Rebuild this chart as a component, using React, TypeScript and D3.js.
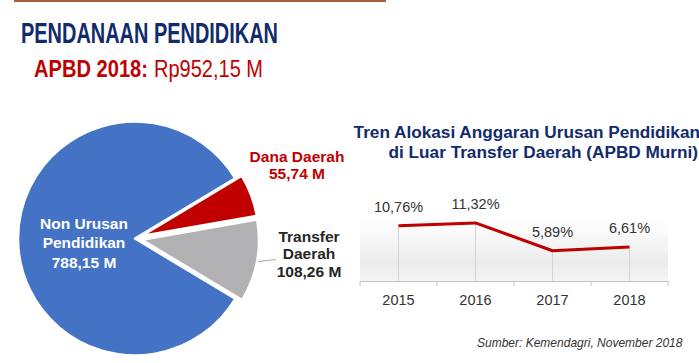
import React from 'react';
import * as d3 from 'd3';

// pie data (APBD 2018, in M rupiah)
const pieCategories = ['Dana Daerah', 'Transfer Daerah', 'Non Urusan Pendidikan'];
const pieValues = [55.74, 108.26, 788.15];
const pieColors = ['#c00000', '#b1b1b3', '#4472c4'];

// trend data
const years = ['2015', '2016', '2017', '2018'];
const shares = [10.76, 11.32, 5.89, 6.61];

const W = 699;
const H = 363;
const FONT = "'Liberation Sans', Arial, Helvetica, sans-serif";
const NAVY = '#112b6b';
const RED = '#c00000';

const fmtPct = (v: number) => v.toFixed(2).replace('.', ',') + '%';

const App = () => {
  // ---- pie ----
  const cx = 135;
  const cy = 238.5;
  const r = 117;
  const start = (59 * Math.PI) / 180;
  const pie = d3
    .pie<number>()
    .sort(null)
    .startAngle(start)
    .endAngle(start + 2 * Math.PI);
  const arcs = pie(pieValues);
  const arc = d3.arc<d3.PieArcDatum<number>>().innerRadius(0).outerRadius(r);
  const explode = [7, 7, 0];

  // ---- line chart ----
  const x = d3.scaleBand().domain(years).range([360, 668]);
  const y = d3.scaleLinear().domain([0, 12]).range([281, 219.4]);
  const line = d3
    .line<number>()
    .x((_, i) => (x(years[i]) as number) + x.bandwidth() / 2)
    .y((d) => y(d));
  const ticks = years.map((yr) => x(yr) as number).concat([x.range()[1]]);

  return (
    <svg
      width={W}
      height={H}
      style={{ position: 'absolute', left: 0, top: 0, background: '#fff' }}
      fontFamily={FONT}
    >
      <defs>
        <linearGradient id="plotBg" x1="0" y1="0" x2="0" y2="1">
          <stop offset="0%" stopColor="#ffffff" />
          <stop offset="70%" stopColor="#ececec" />
          <stop offset="100%" stopColor="#f3f3f3" />
        </linearGradient>
      </defs>

      {/* top rule */}
      <rect x={14} y={0} width={372} height={2} fill="#a0603a" />

      {/* titles */}
      <text
        x={21}
        y={42.5}
        fontSize={29}
        fontWeight="bold"
        fill={NAVY}
        textLength={257}
        lengthAdjust="spacingAndGlyphs"
      >
        PENDANAAN PENDIDIKAN
      </text>
      <text
        x={34}
        y={77}
        fontSize={23}
        fontWeight="bold"
        fill={RED}
        textLength={114}
        lengthAdjust="spacingAndGlyphs"
      >
        APBD 2018:
      </text>
      <text
        x={154}
        y={77}
        fontSize={23}
        fill={RED}
        textLength={109}
        lengthAdjust="spacingAndGlyphs"
      >
        Rp952,15 M
      </text>

      {/* pie */}
      {arcs.map((a, i) => {
        const mid = (a.startAngle + a.endAngle) / 2;
        const dx = Math.sin(mid) * explode[i];
        const dy = -Math.cos(mid) * explode[i];
        return (
          <path
            key={pieCategories[i]}
            d={arc(a) as string}
            transform={`translate(${cx + dx},${cy + dy})`}
            fill={pieColors[i]}
            stroke="#fff"
            strokeWidth={2.5}
            strokeLinejoin="round"
          />
        );
      })}
      <line x1={258} y1={261.5} x2={276} y2={259.5} stroke="#a6a6a6" strokeWidth={1} />

      <g fontSize={15.5} fontWeight="bold" textAnchor="middle">
        <text x={84} y={229} fill="#fff">Non Urusan</text>
        <text x={84} y={248} fill="#fff">Pendidikan</text>
        <text x={84} y={268} fill="#fff">{pieValues[2].toFixed(2).replace('.', ',')} M</text>

        <text x={297} y={162} fill={RED}>Dana Daerah</text>
        <text x={297} y={179} fill={RED}>{pieValues[0].toFixed(2).replace('.', ',')} M</text>

        <text x={309} y={242} fill="#262626">Transfer</text>
        <text x={309} y={259} fill="#262626">Daerah</text>
        <text x={309} y={277} fill="#262626">{pieValues[1].toFixed(2).replace('.', ',')} M</text>
      </g>

      {/* trend title */}
      <g fontSize={17.2} fontWeight="bold" fill={NAVY} textAnchor="end">
        <text x={700} y={138}>Tren Alokasi Anggaran Urusan Pendidikan</text>
        <text x={698} y={158}>di Luar Transfer Daerah (APBD Murni)</text>
      </g>

      {/* plot background */}
      <rect x={360} y={y(12)} width={308} height={y(0) - y(12)} fill="url(#plotBg)" />

      {/* drop lines */}
      {shares.map((v, i) => {
        const px = (x(years[i]) as number) + x.bandwidth() / 2;
        return (
          <line key={'d' + i} x1={px} x2={px} y1={y(v)} y2={y(0)} stroke="#d4d4d4" strokeWidth={1} />
        );
      })}

      {/* axis */}
      <line x1={360} x2={668} y1={y(0) + 0.5} y2={y(0) + 0.5} stroke="#c4c4c4" strokeWidth={1} />
      {ticks.map((t, i) => (
        <line key={'t' + i} x1={t} x2={t} y1={y(0)} y2={y(0) + 5} stroke="#c4c4c4" strokeWidth={1} />
      ))}
      <g fontSize={14.5} fill="#333" textAnchor="middle">
        {years.map((yr) => (
          <text key={yr} x={(x(yr) as number) + x.bandwidth() / 2} y={305}>
            {yr}
          </text>
        ))}
      </g>

      {/* trend line */}
      <path d={line(shares) as string} fill="none" stroke={RED} strokeWidth={3} strokeLinejoin="round" />
      <g fontSize={14.5} fill="#333" textAnchor="middle">
        {shares.map((v, i) => (
          <text key={'l' + i} x={(x(years[i]) as number) + x.bandwidth() / 2} y={y(v) - 14}>
            {fmtPct(v)}
          </text>
        ))}
      </g>

      {/* source */}
      <text x={477} y={347} fontSize={12} fontStyle="italic" fill="#333">
        Sumber: Kemendagri, November 2018
      </text>
    </svg>
  );
};

export default App;
